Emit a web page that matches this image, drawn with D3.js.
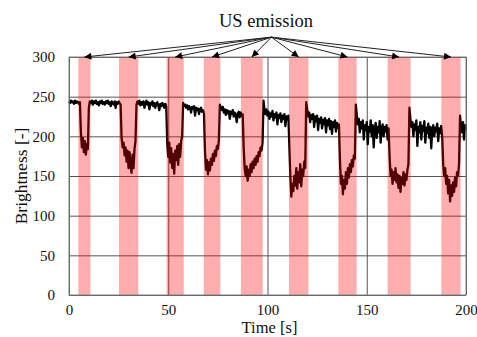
<!DOCTYPE html>
<html>
<head>
<meta charset="utf-8">
<script src="https://cdn.jsdelivr.net/npm/d3@7"></script>
<style>
  body { margin: 0; background: #fff; }
  text { font-family: "Liberation Serif", "Times New Roman", serif; fill: #111; }
</style>
</head>
<body>
<div id="chart"></div>
<script>
const width = 477;
const height = 337;

const sampleStep = 0.5;
const brightness = [
  244, 242, 245, 243, 244, 241, 245, 242, 244, 243, 241, 243, 205, 186, 198, 180, 194, 177, 190, 184,
  236, 244, 242, 245, 240, 244, 242, 245, 241, 243, 239, 244, 242, 245, 241, 243, 240, 244, 242, 245,
  241, 243, 238, 244, 242, 240, 244, 236, 243, 241, 244, 242, 240, 198, 186, 192, 176, 186, 168, 182,
  160, 180, 164, 154, 177, 160, 184, 194, 240, 244, 241, 245, 239, 243, 240, 244, 236, 242, 245, 240,
  243, 234, 242, 240, 244, 238, 242, 236, 241, 243, 239, 233, 241, 238, 242, 240, 236, 241, 238, 190,
  174, 192, 167, 185, 160, 178, 153, 182, 170, 188, 164, 190, 174, 194, 200, 242, 238, 240, 236, 239,
  234, 238, 236, 230, 237, 235, 238, 226, 236, 233, 235, 228, 234, 236, 231, 233, 229, 182, 158, 170,
  152, 167, 157, 172, 164, 178, 169, 182, 175, 188, 184, 195, 240, 236, 233, 237, 230, 234, 227, 233,
  229, 232, 222, 231, 228, 233, 225, 230, 227, 218, 229, 231, 224, 230, 226, 228, 186, 160, 150, 162,
  144, 158, 150, 165, 155, 168, 160, 172, 164, 175, 168, 180, 175, 186, 182, 192, 245, 232, 228, 234,
  226, 231, 222, 229, 225, 232, 220, 228, 224, 230, 215, 227, 223, 229, 218, 226, 222, 228, 213, 225,
  221, 226, 188, 150, 124, 140, 131, 150, 138, 160, 134, 155, 142, 165, 137, 158, 150, 168, 160, 243,
  234, 225, 230, 218, 227, 222, 228, 212, 225, 219, 226, 208, 222, 217, 224, 210, 221, 215, 223, 205,
  220, 214, 222, 209, 219, 203, 218, 212, 220, 206, 217, 211, 215, 170, 140, 150, 127, 145, 134, 155,
  140, 160, 148, 165, 155, 170, 162, 176, 172, 240, 226, 215, 222, 205, 218, 210, 220, 196, 214, 208,
  218, 190, 212, 206, 220, 200, 214, 186, 210, 217, 198, 212, 205, 219, 192, 210, 215, 200, 212, 206,
  214, 196, 210, 175, 150, 158, 140, 155, 145, 160, 142, 152, 135, 150, 130, 148, 140, 155, 138, 152,
  145, 158, 165, 236, 222, 212, 218, 200, 215, 208, 220, 188, 212, 205, 218, 196, 213, 207, 219, 192,
  211, 204, 216, 198, 212, 185, 209, 214, 200, 211, 206, 216, 194, 210, 204, 213, 200, 165, 150, 160,
  140, 150, 128, 145, 118, 138, 125, 142, 130, 148, 137, 155, 150, 166, 226, 212, 205, 218, 196, 214,
  208
];

// Ultrasound emission intervals [s]
const bandStart = [4.7, 25.2, 49.2, 67.9, 86.6, 110.8, 135.7, 160.5, 187.6];
const bandEnd = [10.8, 34.9, 57.8, 76.2, 97.6, 120.6, 144.9, 172.1, 197.3];

const xTicks = [0, 50, 100, 150, 200];
const yTicks = [0, 50, 100, 150, 200, 250, 300];

const margin = { top: 57, right: 11, bottom: 42, left: 69 };
const innerW = width - margin.left - margin.right;
const innerH = height - margin.top - margin.bottom;

const svg = d3
  .select('#chart')
  .append('svg')
  .attr('width', width)
  .attr('height', height);

const g = svg.append('g').attr('transform', `translate(${margin.left},${margin.top})`);

const xScale = d3.scaleLinear().domain([0, 200]).range([0, innerW]);
const yScale = d3.scaleLinear().domain([0, 300]).range([innerH, 0]);

// y axis with horizontal grid lines
g.append('g')
  .attr('class', 'y-axis')
  .call(d3.axisLeft(yScale).tickValues(yTicks).tickSize(-innerW).tickPadding(14))
  .call((a) => a.select('.domain').remove())
  .call((a) => a.selectAll('line').attr('stroke', '#555'))
  .call((a) => a.selectAll('text').style('font-size', '15px').attr('fill', '#111'));

// x axis with vertical grid lines
g.append('g')
  .attr('class', 'x-axis')
  .attr('transform', `translate(0,${innerH})`)
  .call(d3.axisBottom(xScale).tickValues(xTicks).tickSize(-innerH).tickPadding(9.5))
  .call((a) => a.select('.domain').remove())
  .call((a) => a.selectAll('line').attr('stroke', '#555'))
  .call((a) => a.selectAll('text').style('font-size', '15px').attr('fill', '#111'));

// brightness trace
const line = d3
  .line()
  .x((d, i) => xScale(i * sampleStep))
  .y((d) => yScale(d));

g.append('path')
  .datum(brightness)
  .attr('d', line)
  .attr('fill', 'none')
  .attr('stroke', '#000')
  .attr('stroke-width', 2.3)
  .attr('stroke-linejoin', 'round');

// emission bands, laid over the trace
g.selectAll('rect.band')
  .data(bandStart)
  .enter()
  .append('rect')
  .attr('class', 'band')
  .attr('x', (d) => xScale(d))
  .attr('width', (d, i) => xScale(bandEnd[i]) - xScale(d))
  .attr('y', yScale(300))
  .attr('height', yScale(0) - yScale(300))
  .attr('fill', '#ff0000')
  .attr('fill-opacity', 0.32);

// plot frame
g.append('rect')
  .attr('width', innerW)
  .attr('height', innerH)
  .attr('fill', 'none')
  .attr('stroke', '#808080');

// arrows from the label to each band
svg.append('defs')
  .append('marker')
  .attr('id', 'head')
  .attr('viewBox', '0 0 10 10')
  .attr('refX', 10)
  .attr('refY', 5)
  .attr('markerWidth', 8)
  .attr('markerHeight', 7)
  .attr('markerUnits', 'userSpaceOnUse')
  .attr('orient', 'auto')
  .append('path')
  .attr('d', 'M0,0L10,5L0,10z')
  .attr('fill', '#000');

const originX = xScale(102);
const originY = yScale(325);

g.selectAll('line.arrow')
  .data(bandStart)
  .enter()
  .append('line')
  .attr('class', 'arrow')
  .attr('x1', originX)
  .attr('y1', originY)
  .attr('x2', (d, i) => xScale((d + bandEnd[i]) / 2))
  .attr('y2', yScale(300))
  .attr('stroke', '#222')
  .attr('stroke-width', 1)
  .attr('marker-end', 'url(#head)');

// labels
svg.append('text')
  .attr('x', 266)
  .attr('y', 27)
  .attr('text-anchor', 'middle')
  .style('font-size', '18.5px')
  .text('US emission');

svg.append('text')
  .attr('x', margin.left + innerW / 2 + 2)
  .attr('y', 333)
  .attr('text-anchor', 'middle')
  .style('font-size', '16.5px')
  .text('Time [s]');

svg.append('text')
  .attr('transform', `translate(27,${margin.top + innerH / 2}) rotate(-90)`)
  .attr('text-anchor', 'middle')
  .style('font-size', '17.5px')
  .text('Brightness [-]');
</script>
</body>
</html>
